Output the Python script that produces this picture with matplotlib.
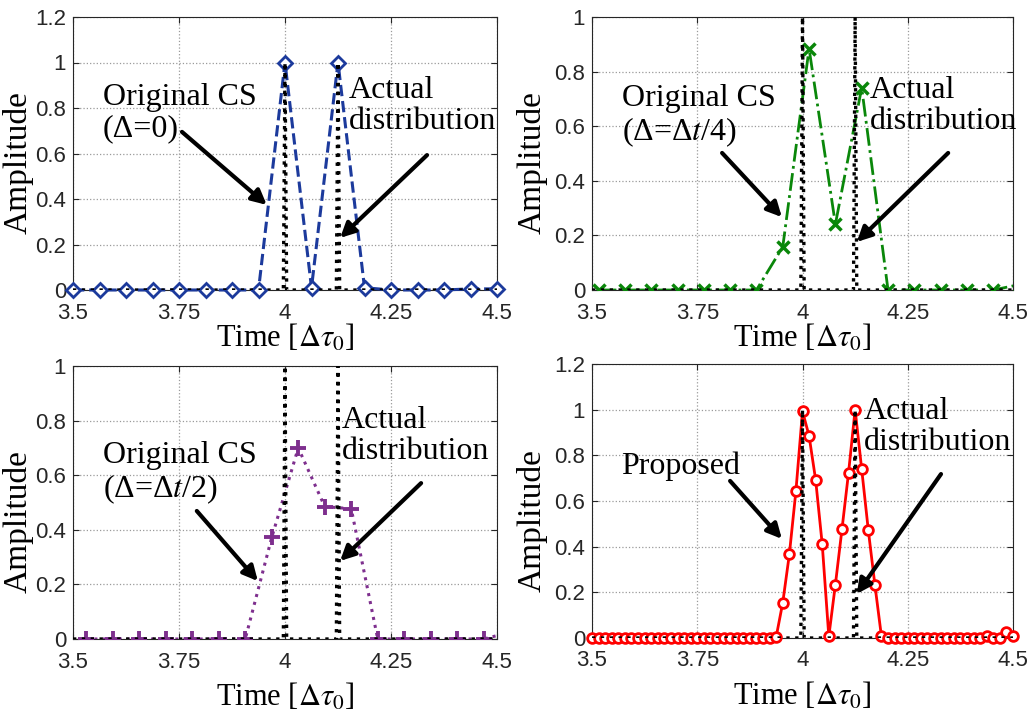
import numpy as np
import matplotlib
matplotlib.use("Agg")
import matplotlib.pyplot as plt
from matplotlib.ticker import FixedLocator, FixedFormatter

plt.rcParams["mathtext.fontset"] = "stix"

# ---- data ----------------------------------------------------------------
# Original CS, no offset (samples every dt = 1/16)
cs0_t = [3.5, 3.5625, 3.625, 3.6875, 3.75, 3.8125, 3.875, 3.9375, 4.0,
         4.0625, 4.125, 4.1875, 4.25, 4.3125, 4.375, 4.4375, 4.5]
cs0_a = [0, 0, 0, 0, 0, 0, 0, 0, 1.0, 0.01, 1.0, 0.01, 0, 0, 0, 0.005, 0.005]

# Original CS, offset dt/4
cs4_t = [3.515625, 3.578125, 3.640625, 3.703125, 3.765625, 3.828125, 3.890625,
         3.953125, 4.015625, 4.078125, 4.140625, 4.203125, 4.265625, 4.328125,
         4.390625, 4.453125, 4.515625]
cs4_a = [0, 0, 0, 0, 0, 0, 0, 0.158, 0.884, 0.241, 0.741, 0, 0, 0, 0, 0, 0.02]

# Original CS, offset dt/2
cs2_t = [3.53125, 3.59375, 3.65625, 3.71875, 3.78125, 3.84375, 3.90625,
         3.96875, 4.03125, 4.09375, 4.15625, 4.21875, 4.28125, 4.34375,
         4.40625, 4.46875, 4.53125]
cs2_a = [0, 0, 0, 0, 0, 0, 0, 0.372, 0.700, 0.485, 0.477, 0, 0, 0, 0, 0, 0.025]

# Proposed method (samples every dt/4 = 1/64)
prop_t = list(np.linspace(3.5, 4.5, 65))
prop_a = [0] * 28 + [0.005, 0.155, 0.366, 0.644, 0.993, 0.885, 0.692, 0.41,
          0.007, 0.234, 0.476, 0.724, 1.0, 0.739, 0.473, 0.234, 0.007] \
         + [0] * 15 + [0.01, 0, 0, 0.025, 0.01]

# Actual distribution: two unit spikes
spike_t = [4.0, 4.125]
spike_a = [1.0, 1.0]
grid_step = 1 / 256

xticks = [3.5, 3.75, 4.0, 4.25, 4.5]
xtick_labels = ["3.5", "3.75", "4", "4.25", "4.5"]

# ---- figure --------------------------------------------------------------
W, H = 1029, 713
fig = plt.figure(figsize=(W / 100, H / 100), dpi=100)

def px_axes(l, r, t, b):
    return fig.add_axes([l / W, 1 - b / H, (r - l) / W, (b - t) / H])

ax_tl = px_axes(73, 497, 17, 290)
ax_tr = px_axes(592, 1013, 17, 290)
ax_bl = px_axes(73, 497, 366, 639)
ax_br = px_axes(592, 1013, 364, 638)

serif = "Liberation Serif"
tick_col = "#262626"

act_t = np.arange(3.5, 4.5 + grid_step / 2, grid_step)
act_a = np.zeros_like(act_t)
for st, sa in zip(spike_t, spike_a):
    act_a[np.argmin(np.abs(act_t - st))] = sa


def style_axes(ax, ymax, xlab_y, ylab_x, ylab_y):
    ax.set_xlim(3.5, 4.5)
    ax.set_ylim(0, ymax)
    ax.xaxis.set_major_locator(FixedLocator(xticks))
    ax.xaxis.set_major_formatter(FixedFormatter(xtick_labels))
    yt = list(np.round(np.arange(0, ymax + 1e-9, 0.2), 1))
    ax.yaxis.set_major_locator(FixedLocator(yt))
    ax.yaxis.set_major_formatter(FixedFormatter([f"{v:g}" for v in yt]))
    ax.tick_params(direction="in", length=4, width=0.8, colors=tick_col,
                   labelsize=16, top=True, right=True)
    ax.tick_params(axis="x", pad=9)
    ax.tick_params(axis="y", pad=5)
    for lab in ax.get_xticklabels() + ax.get_yticklabels():
        lab.set_fontfamily("Liberation Sans")
    ax.grid(True, linestyle=":", color="#9a9a9a", linewidth=0.9)
    for s in ax.spines.values():
        s.set_color(tick_col)
        s.set_linewidth(0.8)
    ax.set_xlabel(r"Time [$\Delta\tau_{0}$]", fontsize=22, family=serif)
    ax.xaxis.set_label_coords(0.5, xlab_y)
    ax.set_ylabel("Amplitude", fontsize=24, family=serif)
    ax.yaxis.set_label_coords(ylab_x, ylab_y)


def actual(ax):
    ax.plot(act_t, act_a, linestyle=":", color="black", linewidth=2.4,
            zorder=4)


def note(ax, text, xy_text, tail, head):
    ax.text(xy_text[0], xy_text[1], text, fontsize=23, family=serif,
            va="top", ha="left", linespacing=1.1, zorder=6)
    ax.annotate("", xy=head, xytext=tail,
                arrowprops=dict(arrowstyle="-|>", color="black", lw=3,
                                mutation_scale=22, shrinkA=0, shrinkB=0),
                zorder=6)


# top-left
ax = ax_tl
ax.plot(cs0_t, cs0_a, linestyle="--", color="#1c3a9c", linewidth=2.2,
        marker="D", markersize=7, markerfacecolor="white",
        markeredgewidth=2, clip_on=False, zorder=3)
actual(ax)
style_axes(ax, 1.2, -0.118, -0.094, 0.465)
note(ax, "Original CS\n(Δ=0)", (3.571, 0.91), (3.757, 0.695), (3.957, 0.374))
note(ax, "Actual\ndistribution", (4.150, 0.94), (4.335, 0.593), (4.130, 0.229))

# top-right
ax = ax_tr
ax.plot(cs4_t, cs4_a, linestyle="-.", color="#0a870a", linewidth=2,
        marker="x", markersize=8, markeredgewidth=2.5, zorder=3)
actual(ax)
style_axes(ax, 1.0, -0.118, -0.105, 0.465)
note(ax, "Original CS\n(Δ=Δ$t$/4)", (3.571, 0.755), (3.809, 0.502), (3.951, 0.267))
note(ax, "Actual\ndistribution", (4.160, 0.785), (4.346, 0.502), (4.129, 0.176))

# bottom-left
ax = ax_bl
ax.plot(cs2_t, cs2_a, linestyle=":", color="#7e2f8e", linewidth=2.2,
        marker="+", markersize=11, markeredgewidth=2.8, zorder=3)
actual(ax)
style_axes(ax, 1.0, -0.155, -0.094, 0.432)
note(ax, "Original CS\n(Δ=Δ$t$/2)", (3.571, 0.725), (3.792, 0.469), (3.936, 0.212))
note(ax, "Actual\ndistribution", (4.134, 0.855), (4.321, 0.571), (4.130, 0.286))

# bottom-right
ax = ax_br
ax.plot(prop_t, prop_a, linestyle="-", color="#ff0000", linewidth=2,
        marker="o", markersize=7, markerfacecolor="white",
        markeredgewidth=2, clip_on=False, zorder=3)
actual(ax)
style_axes(ax, 1.2, -0.156, -0.105, 0.427)
note(ax, "Proposed", (3.569, 0.815), (3.828, 0.688), (3.951, 0.434))
note(ax, "Actual\ndistribution", (4.145, 1.055), (4.329, 0.718), (4.129, 0.193))

fig.savefig("out.png", dpi=100)
